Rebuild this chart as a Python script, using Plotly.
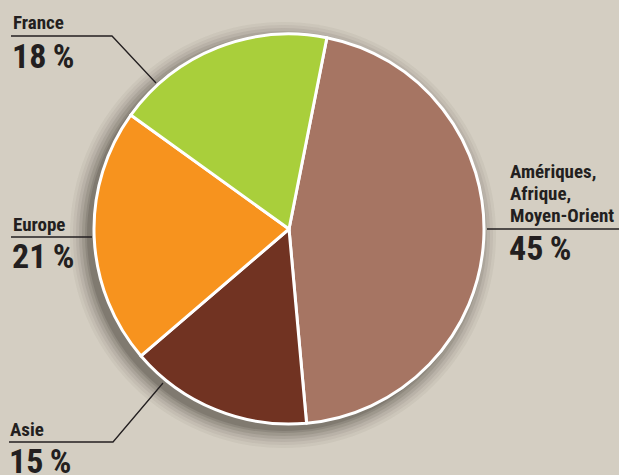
import plotly.graph_objects as go

W, H = 619, 475

# ---- data ----
categories = ["Amériques, Afrique, Moyen-Orient", "Asie", "Europe", "France"]
values = [45, 15, 21, 18]
colors = ["#a67563", "#713322", "#f7931e", "#a9cf3b"]
label_lines = [["Amériques,", "Afrique,", "Moyen-Orient"], ["Asie"], ["Europe"], ["France"]]
pct_text = [f"{v}\u2009%" for v in values]

# ---- layout helpers (pixel -> paper) ----
def px(x):
    return x / W

def py(y):
    return 1 - y / H

cx, cy, R = 289, 229, 195
BG = "#d4cec2"
TXT = "#231f20"
FONT = "Liberation Sans Narrow, Roboto Condensed, DejaVu Sans Condensed, Arial Narrow, sans-serif"

fig = go.Figure(go.Pie(
    labels=categories,
    values=values,
    sort=False,
    direction="clockwise",
    rotation=11.2,
    marker=dict(colors=colors, line=dict(color="white", width=3)),
    textinfo="none",
    hoverinfo="none",
    showlegend=False,
    domain=dict(x=[px(cx - R), px(cx + R)], y=[py(cy + R), py(cy - R)]),
))

shapes = []
# soft drop shadow (below the pie)
for d, op in [(18, 0.05), (15, 0.06), (12, 0.08), (9, 0.10), (6, 0.12), (3, 0.15), (1, 0.18)]:
    ox, oy = -6, 6
    r = R + d
    shapes.append(dict(type="circle", xref="paper", yref="paper", layer="below",
                       x0=px(cx + ox - r), x1=px(cx + ox + r),
                       y0=py(cy + oy + r), y1=py(cy + oy - r),
                       fillcolor=f"rgba(60,55,45,{op})", line=dict(width=0)))

# leader lines (pixel coordinates)
leaders = [
    [(487, 229), (619, 229)],                 # Amériques
    [(9, 442), (113, 442), (163, 383)],       # Asie
    [(11, 237), (92, 237)],                   # Europe
    [(11, 36), (112, 36), (156, 83)],         # France
]
for pts in leaders:
    path = "M " + " L ".join(f"{px(x)},{py(y)}" for x, y in pts)
    shapes.append(dict(type="path", xref="paper", yref="paper", path=path,
                       line=dict(color=TXT, width=1.3), layer="above"))

annotations = []
# label anchor positions: (left x, first-line baseline, pct baseline)
label_pos = [(509, 178, 260), (9, 436, 473), (12, 231, 268), (12, 29, 68)]
LF, PF = 19, 34
for lines, pct, (lx, lb, pb) in zip(label_lines, pct_text, label_pos):
    for k, line in enumerate(lines):
        b = lb + 22 * k
        annotations.append(dict(text=f"<b>{line}</b>", xref="paper", yref="paper",
                                x=px(lx), y=py(b - 0.35 * LF), xanchor="left", yanchor="middle",
                                showarrow=False, font=dict(family=FONT, size=LF, color=TXT),
                                borderpad=0))
    annotations.append(dict(text=f"<b>{pct}</b>", xref="paper", yref="paper",
                            x=px(lx - 1), y=py(pb - 0.35 * PF), xanchor="left", yanchor="middle",
                            showarrow=False, font=dict(family=FONT, size=PF, color=TXT),
                            borderpad=0))

fig.update_layout(
    width=W, height=H,
    margin=dict(l=0, r=0, t=0, b=0),
    paper_bgcolor=BG, plot_bgcolor=BG,
    shapes=shapes, annotations=annotations,
)

fig.write_html("out.html")
